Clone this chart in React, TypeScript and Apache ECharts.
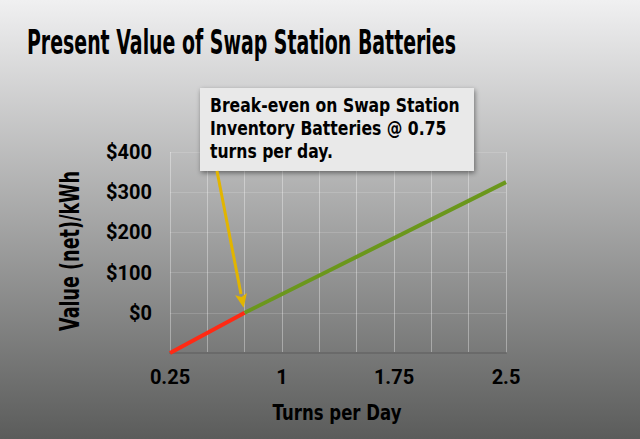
import React, { useEffect, useRef } from 'react';
import * as echarts from 'echarts';

const titleText = 'Present Value of Swap Station Batteries';
const xAxisTitle = 'Turns per Day';
const yAxisTitle = 'Value (net)/kWh';
const calloutLines = ['Break-even on Swap Station', 'Inventory Batteries @ 0.75', 'turns per day.'];
const xTickLabels = [0.25, 1, 1.75, 2.5];
const yTickLabels = [0, 100, 200, 300, 400];
const lossSegment = [[0.25, -100], [0.75, 0]];
const gainSegment = [[0.75, 0], [2.5, 325]];
const breakEven = [0.75, 0];

const FONT = "'DejaVu Sans', Roboto, sans-serif";
const LABEL_FONT = "Roboto, 'DejaVu Sans', sans-serif";

function measure(text: string, font: string): number {
  const ctx = document.createElement('canvas').getContext('2d')!;
  ctx.font = font;
  return ctx.measureText(text).width;
}

export default function App() {
  const ref = useRef<HTMLDivElement>(null);
  useEffect(() => {
    const chart = echarts.init(ref.current!, null, { renderer: 'svg' });
    chart.setOption({
      animation: false,
      backgroundColor: {
        type: 'linear', x: 0, y: 0, x2: 0, y2: 1,
        colorStops: [
          { offset: 0, color: '#f0f0f1' },
          { offset: 1, color: '#5b5c5b' },
        ],
      },
      grid: { left: 170, right: 134, top: 152, bottom: 86 },
      xAxis: {
        type: 'value', min: 0.25, max: 2.5, interval: 0.25,
        axisLine: { show: true, onZero: false, lineStyle: { color: '#6a6a6a', width: 2 } },
        axisTick: { show: false },
        splitLine: { show: true, lineStyle: { color: 'rgba(255,255,255,0.35)', width: 1 } },
        axisLabel: {
          margin: 14,
          color: '#000', fontSize: 20, fontWeight: 'bold', fontFamily: LABEL_FONT,
          formatter: (v: number) => (xTickLabels.some((t) => Math.abs(t - v) < 1e-6) ? String(v) : ''),
        },
      },
      yAxis: {
        type: 'value', min: -100, max: 400, interval: 100,
        axisLine: { show: false },
        axisTick: { show: false },
        splitLine: { show: true, lineStyle: { color: 'rgba(255,255,255,0.15)', width: 1 } },
        axisLabel: {
          margin: 18,
          color: '#000', fontSize: 20, fontWeight: 'bold', fontFamily: LABEL_FONT,
          formatter: (v: number) => (yTickLabels.indexOf(v) >= 0 ? '$' + v : ''),
        },
      },
      series: [
        {
          type: 'line', data: lossSegment, symbol: 'none', z: 3,
          lineStyle: { color: '#ff2a14', width: 4, cap: 'butt' },
        },
        {
          type: 'line', data: gainSegment, symbol: 'none', z: 3,
          lineStyle: { color: '#6b971c', width: 4, cap: 'butt' },
        },
      ],
    });

    const titleFont = `bold 34px ${FONT}`;
    const titleScale = 429 / measure(titleText, titleFont);
    const yFont = `bold 26px ${FONT}`;
    const yScale = 160 / measure(yAxisTitle, yFont);
    const xFont = `bold 22px ${FONT}`;
    const xScale = 129 / measure(xAxisTitle, xFont);
    const boxFont = `bold 20px ${FONT}`;
    const boxScale = 250 / measure(calloutLines[0], boxFont);

    const tip = chart.convertToPixel({ xAxisIndex: 0, yAxisIndex: 0 }, breakEven) as number[];
    const end = [tip[0] - 1, tip[1] - 5];
    const start = [217, 171];
    const dx = end[0] - start[0];
    const dy = end[1] - start[1];
    const len = Math.sqrt(dx * dx + dy * dy);
    const ux = dx / len, uy = dy / len;
    const headLen = 14, headW = 6;
    const base = [end[0] - ux * headLen, end[1] - uy * headLen];
    const px = -uy, py = ux;

    chart.setOption({
      graphic: [
        {
          type: 'text', x: 27, y: 42, scaleX: titleScale, z: 10,
          style: { text: titleText, font: titleFont, fill: '#000', align: 'left', verticalAlign: 'middle' },
        },
        {
          type: 'text', x: 70, y: 251, rotation: Math.PI / 2, scaleX: yScale, z: 10,
          style: { text: yAxisTitle, font: yFont, fill: '#000', align: 'center', verticalAlign: 'middle' },
        },
        {
          type: 'text', x: 337, y: 413, scaleX: xScale, z: 10,
          style: { text: xAxisTitle, font: xFont, fill: '#000', align: 'center', verticalAlign: 'middle' },
        },
        {
          type: 'rect', z: 10,
          shape: { x: 200, y: 88, width: 274, height: 83 },
          style: {
            fill: '#e9e9e9', shadowBlur: 5, shadowColor: 'rgba(0,0,0,0.45)',
            shadowOffsetX: 1, shadowOffsetY: 2,
          },
        },
        ...calloutLines.map((line, i) => ({
          type: 'text', x: 210, y: 105 + i * 23, scaleX: boxScale, z: 11,
          style: { text: line, font: boxFont, fill: '#000', align: 'left', verticalAlign: 'middle' },
        })),
        {
          type: 'line', z: 12,
          shape: { x1: start[0], y1: start[1], x2: base[0], y2: base[1] },
          style: { stroke: '#e2b500', lineWidth: 3 },
        },
        {
          type: 'polygon', z: 12,
          shape: {
            points: [
              end,
              [base[0] + px * headW, base[1] + py * headW],
              [base[0] + ux * 3, base[1] + uy * 3],
              [base[0] - px * headW, base[1] - py * headW],
            ],
          },
          style: { fill: '#e2b500' },
        },
      ],
    });

    return () => chart.dispose();
  }, []);
  return (
    <div
      ref={ref}
      style={{ position: 'fixed', left: 0, top: 0, width: 640, height: 439 }}
    />
  );
}
